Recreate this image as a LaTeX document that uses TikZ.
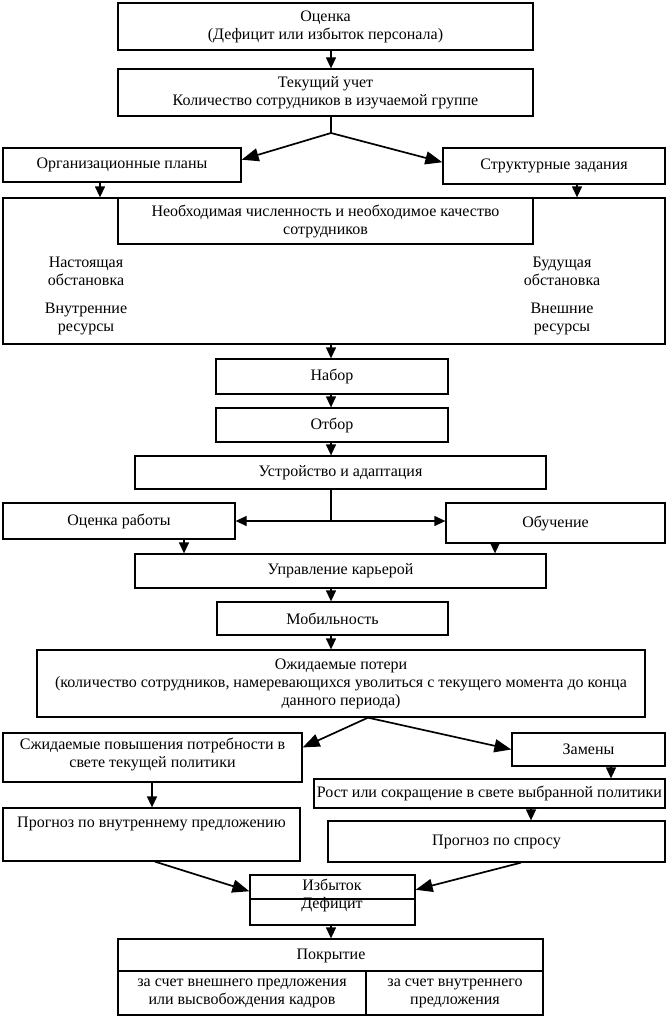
\documentclass[tikz,border=0pt]{standalone}
\usepackage{fontspec}
\setmainfont{Liberation Serif}
\usetikzlibrary{arrows.meta,calc,fit}
\begin{document}
\begin{tikzpicture}[x=1pt,y=-1pt,
  font=\fontsize{16}{18}\selectfont,
  box/.style={draw, line width=1.3pt, inner sep=0pt},
  txt/.style={align=center, inner sep=0pt},
  ln/.style={line width=1.3pt},
  arr/.style={line width=1.3pt, -{Triangle[length=11pt,width=10pt]}},
  bigarr/.style={line width=1.7pt, -{Triangle[length=17pt,width=13pt]}}]
\useasboundingbox (0,0) rectangle (669,1025);
\fill[white] (0,0) rectangle (669,1025);
% column coordinates
\coordinate (cx) at (331,0);
\coordinate (c100) at (100,0);
\coordinate (c577) at (577,0);
\coordinate (c184) at (184,0);
\coordinate (c495) at (495,0);
\coordinate (c368) at (368,0);
\coordinate (c611) at (611,0);
\coordinate (c152) at (152,0);
\coordinate (c531) at (531,0);
\coordinate (c155) at (155,0);
\coordinate (c521) at (521,0);
% boxes
\node[box, fit={(118,3) (533,50)}] (b1) {};
\node[txt] (b1t) at (b1) {Оценка\\(Дефицит или избыток персонала)};
\node[box, fit={(118,69) (533,116)}] (b2) {};
\node[txt] (b2t) at (b2) {Текущий учет\\Количество сотрудников в изучаемой группе};
\node[box, fit={(3,148) (241,182)}] (b3) {};
\node[txt] (b3t) at (b3) {Организационные планы};
\node[box, fit={(443,148) (665,184)}] (b4) {};
\node[txt] (b4t) at (b4) {Структурные задания};
\node[box, fit={(3,198) (665,344)}] (B) {};
\node[box, fit={(118,198) (533,244)}] (I) {};
\node[txt] (It) at (I) {Необходимая численность и необходимое качество\\сотрудников};
\node[txt] (t1) at (86,271) {Настоящая\\обстановка};
\node[txt] (t2) at (86,319) {Внутренние\\ресурсы};
\node[txt] (t3) at (562,271) {Будущая\\обстановка};
\node[txt] (t4) at (562,319) {Внешние\\ресурсы};
\node[box, fit={(216,359) (448,394)}] (n1) {};
\node[txt] (n1t) at (n1) {Набор};
\node[box, fit={(216,408) (448,442)}] (n2) {};
\node[txt] (n2t) at (n2) {Отбор};
\node[box, fit={(135,456) (546,489)}] (n3) {};
\node[txt] (n3t) at (n3) {Устройство и адаптация};
\node[box, fit={(3,503) (235,539)}] (n4) {};
\node[txt] (n4t) at (n4) {Оценка работы};
\node[box, fit={(446,503) (665,543)}] (n5) {};
\node[txt] (n5t) at (n5) {Обучение};
\node[box, fit={(135,554) (546,588)}] (n6) {};
\node[txt] (n6t) at (n6) {Управление карьерой};
\node[box, fit={(217,602) (448,635)}] (n7) {};
\node[txt] (n7t) at (n7) {Мобильность};
\node[box, fit={(37,650) (645,717)}] (n8) {};
\node[txt] (n8t) at (n8) {Ожидаемые потери\\(количество сотрудников, намеревающихся уволиться с текущего момента до конца\\данного периода)};
\node[box, fit={(3,733) (302,782)}] (n9) {};
\node[txt] (n9t) at ($(n9)+(0,-3)$) {Сжидаемые повышения потребности в\\свете текущей политики};
\node[box, fit={(512,733) (665,766)}] (n10) {};
\node[txt] (n10t) at (n10) {Замены};
\node[box, fit={(314,779) (665,808)}] (n11) {};
\node[txt] (n11t) at (n11) {Рост или сокращение в свете выбранной политики};
\node[box, fit={(3,808) (300,861)}] (n12) {};
\node[txt] (n12t) at ($(n12.north)+(0,17)$) {Прогноз по внутреннему предложению};
\node[box, fit={(328,821) (665,862)}] (n13) {};
\node[txt] (n13t) at (n13) {Прогноз по спросу};
\node[box, fit={(250,875) (415,925)}] (n14) {};
\coordinate (h14) at (0,899);
\draw[ln] (n14.west |- h14) -- (n14.east |- h14);
\node[txt] (t14) at (332,895) {Избыток\\Дефицит};
\node[box, fit={(118,939) (543,1015)}] (n15) {};
\coordinate (d1) at (366,971);
\draw[ln] (n15.west |- d1) -- (n15.east |- d1);
\draw[ln] (d1) -- (d1 |- n15.south);
\node[txt] (t15) at (331,956) {Покрытие};
\node[txt] (t16) at (242,993) {за счет внешнего предложения\\или высвобождения кадров};
\node[txt] (t17) at (455,993) {за счет внутреннего\\предложения};
% connectors
\draw[arr] (b1.south -| cx) -- (b2.north -| cx);
\coordinate (f1) at (331,133);
\draw[ln] (b2.south -| cx) -- (f1);
\draw[bigarr] (f1) -- ($(b3.north east)!0.35!(b3.south east)$);
\draw[bigarr] (f1) -- ($(b4.north west)!0.4!(b4.south west)$);
\draw[arr] (b3.south -| c100) -- (B.north -| c100);
\draw[arr] (b4.south -| c577) -- (B.north -| c577);
\draw[arr] (B.south -| cx) -- (n1.north -| cx);
\draw[arr] (n1.south -| cx) -- (n2.north -| cx);
\draw[arr] (n2.south -| cx) -- (n3.north -| cx);
\coordinate (f2) at (331,521);
\draw[ln] (n3.south -| cx) -- (f2);
\draw[arr] (f2) -- (n4.east |- f2);
\draw[arr] (f2) -- (n5.west |- f2);
\draw[arr] (n4.south -| c184) -- (n6.north -| c184);
\draw[arr] (n5.south -| c495) -- (n6.north -| c495);
\draw[arr] (n6.south -| cx) -- (n7.north -| cx);
\draw[arr] (n7.south -| cx) -- (n8.north -| cx);
\coordinate (f3) at (n8.south -| c368);
\draw[bigarr] (f3) -- ($(n9.north east)!0.3!(n9.south east)$);
\draw[bigarr] (f3) -- (n10.west);
\draw[arr] (n10.south -| c611) -- (n11.north -| c611);
\draw[arr] (n9.south -| c152) -- (n12.north -| c152);
\draw[arr] (n11.south -| c531) -- (n13.north -| c531);
\draw[bigarr] (n12.south -| c155) -- ($(n14.north west)!0.33!(n14.south west)$);
\draw[bigarr] (n13.south -| c521) -- ($(n14.north east)!0.3!(n14.south east)$);
\draw[arr] (n14.south -| cx) -- (n15.north -| cx);
\end{tikzpicture}
\end{document}
